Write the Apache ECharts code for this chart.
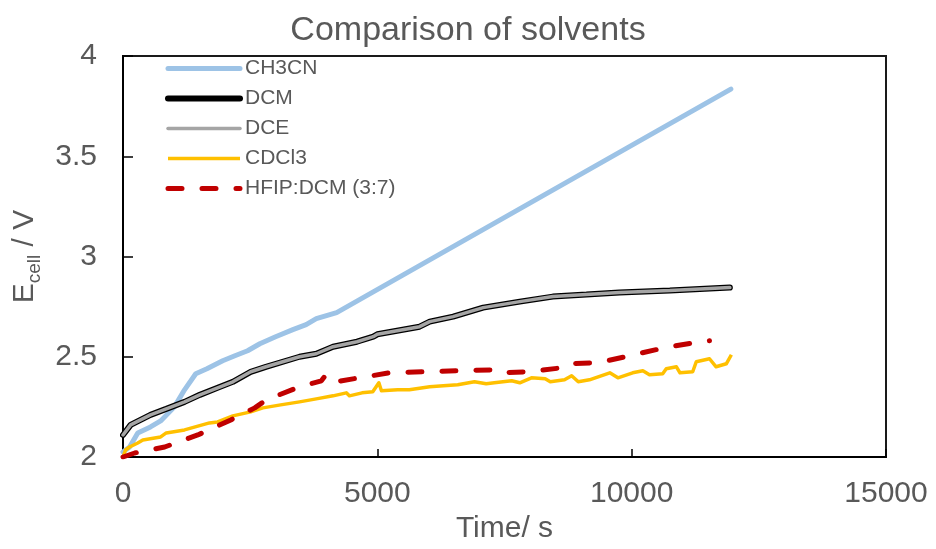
<!DOCTYPE html>
<html>
<head>
<meta charset="utf-8">
<script src="https://cdn.jsdelivr.net/npm/echarts@6/dist/echarts.min.js"></script>
<style>
  html, body { margin: 0; padding: 0; background: #fff; }
  #chart { width: 936px; height: 549px; }
</style>
</head>
<body>
<div id="chart"></div>
<script>
// values: time in s, Ecell in V
const ch3cnTime = [0, 130, 290, 540, 740, 1010, 1210, 1430, 1650, 1960, 2200, 2450, 2690, 3000, 3340, 3600, 3800, 4000, 4200, 11950]
const ch3cnVolt = [2.025, 2.05, 2.12, 2.15, 2.18, 2.25, 2.335, 2.415, 2.44, 2.48, 2.505, 2.53, 2.565, 2.6, 2.635, 2.66, 2.69, 2.705, 2.72, 3.835]

const dcmTime = [0, 150, 540, 850, 1210, 1510, 1860, 2160, 2510, 2810, 3470, 3800, 4130, 4600, 4920, 5000, 5830, 6030, 6490, 7080, 7800, 8450, 9110, 9760, 10750, 11930]
const dcmVolt = [2.11, 2.16, 2.21, 2.24, 2.275, 2.31, 2.345, 2.375, 2.425, 2.45, 2.5, 2.515, 2.55, 2.575, 2.6, 2.612, 2.65, 2.675, 2.7, 2.745, 2.775, 2.8, 2.81, 2.82, 2.83, 2.845]

// DCE sits right on top of DCM
const dceTime = dcmTime
const dceVolt = dcmVolt

const cdcl3Time = [0, 50, 130, 290, 390, 740, 850, 1210, 1700, 1860, 2160, 2510, 2750, 3100, 3470, 3800, 4130, 4390, 4450, 4700, 4910, 5030, 5080, 5400, 5630, 6030, 6300, 6580, 6910, 7140, 7300, 7640, 7800, 8030, 8300, 8400, 8680, 8820, 8950, 9170, 9570, 9730, 10020, 10220, 10350, 10610, 10680, 10880, 10950, 11200, 11270, 11530, 11660, 11860, 11960]
const cdcl3Volt = [2.0, 2.035, 2.05, 2.07, 2.085, 2.1, 2.12, 2.135, 2.17, 2.175, 2.205, 2.225, 2.245, 2.26, 2.275, 2.29, 2.305, 2.32, 2.305, 2.32, 2.325, 2.37, 2.33, 2.335, 2.335, 2.35, 2.355, 2.36, 2.375, 2.365, 2.37, 2.38, 2.37, 2.395, 2.39, 2.375, 2.385, 2.405, 2.375, 2.385, 2.42, 2.395, 2.42, 2.43, 2.41, 2.415, 2.44, 2.45, 2.42, 2.425, 2.475, 2.49, 2.45, 2.465, 2.51]

const hfipTime = [0, 230, 820, 1470, 2120, 2590, 2820, 3470, 3900, 3960, 4050, 4650, 5240, 5890, 6580, 7300, 7400, 7960, 8630, 8750, 9330, 9960, 10650, 11340, 11530]
const hfipVolt = [2.0, 2.02, 2.05, 2.11, 2.185, 2.245, 2.285, 2.35, 2.38, 2.4, 2.37, 2.395, 2.42, 2.425, 2.43, 2.435, 2.42, 2.425, 2.445, 2.465, 2.47, 2.505, 2.545, 2.575, 2.58]

const xTicks = [0, 5000, 10000, 15000]
const yTicks = [2, 2.5, 3, 3.5, 4]

const txt = '#595959'
const font = 'Liberation Sans'

function pairs(t, v){
  var res = []
  for(let i=0; i<t.length; i++){
    res.push([t[i], v[i]])
  }
  return res
}

const chart = echarts.init(document.getElementById('chart'))
chart.setOption({
  animation: false,
  textStyle: { fontFamily: font },
  title: {
    text: 'Comparison of solvents',
    left: 'center',
    top: 9,
    textStyle: { fontSize: 34, fontWeight: 'normal', color: txt, fontFamily: font }
  },
  legend: {
    orient: 'vertical',
    left: 160,
    top: 53,
    itemWidth: 72,
    itemHeight: 10,
    itemGap: 9,
    itemStyle: { opacity: 0 },
    lineStyle: { width: 'inherit' },
    textStyle: { fontSize: 21, color: txt, lineHeight: 20 },
    data: ['CH3CN', 'DCM', 'DCE', 'CDCl3', 'HFIP:DCM (3:7)']
  },
  grid: {
    left: 123, right: 50, top: 56, bottom: 92,
    show: true, borderColor: '#1a1a1a', borderWidth: 2
  },
  xAxis: {
    type: 'value',
    min: xTicks[0], max: xTicks[xTicks.length - 1], interval: 5000,
    name: 'Time/ s',
    nameLocation: 'middle',
    nameGap: 50,
    nameTextStyle: { fontSize: 30, color: txt },
    axisLine: { lineStyle: { color: '#000', width: 2 } },
    axisTick: { inside: true, length: 8, lineStyle: { color: '#000', width: 1.5 } },
    axisLabel: { fontSize: 30, color: txt, margin: 22, formatter: function(v){ return String(v) } },
    splitLine: { show: false }
  },
  yAxis: {
    type: 'value',
    min: yTicks[0], max: yTicks[yTicks.length - 1], interval: 0.5,
    name: '{e|E}{s|cell}{e| / V}',
    nameLocation: 'middle',
    nameRotate: 90,
    nameGap: 78,
    nameTextStyle: {
      color: txt,
      rich: {
        e: { fontSize: 30, lineHeight: 40, color: txt, fontFamily: font },
        s: { fontSize: 19, lineHeight: 19, verticalAlign: 'bottom', color: txt, fontFamily: font }
      }
    },
    axisLine: { show: true, lineStyle: { color: '#000', width: 2 } },
    axisTick: { show: true, inside: true, length: 10, lineStyle: { color: '#000', width: 1.5 } },
    axisLabel: { fontSize: 30, color: txt, margin: 26 },
    splitLine: { show: false }
  },
  series: [
    {
      name: 'CH3CN', type: 'line', showSymbol: false, symbol: 'none',
      lineStyle: { color: '#9DC3E6', width: 5, cap: 'round' },
      itemStyle: { color: '#9DC3E6' },
      data: pairs(ch3cnTime, ch3cnVolt)
    },
    {
      name: 'DCM', type: 'line', showSymbol: false, symbol: 'none',
      lineStyle: { color: '#000', width: 6, cap: 'round' },
      itemStyle: { color: '#000' },
      data: pairs(dcmTime, dcmVolt)
    },
    {
      name: 'DCE', type: 'line', showSymbol: false, symbol: 'none',
      lineStyle: { color: '#A5A5A5', width: 3.5, cap: 'round' },
      itemStyle: { color: '#A5A5A5' },
      data: pairs(dceTime, dceVolt)
    },
    {
      name: 'CDCl3', type: 'line', showSymbol: false, symbol: 'none',
      lineStyle: { color: '#FFC000', width: 3.5, join: 'round' },
      itemStyle: { color: '#FFC000' },
      data: pairs(cdcl3Time, cdcl3Volt)
    },
    {
      name: 'HFIP:DCM (3:7)', type: 'line', showSymbol: false, symbol: 'none',
      lineStyle: { color: '#C00000', width: 5, type: [14, 20], cap: 'round' },
      itemStyle: { color: '#C00000' },
      data: pairs(hfipTime, hfipVolt)
    }
  ]
})
</script>
</body>
</html>
